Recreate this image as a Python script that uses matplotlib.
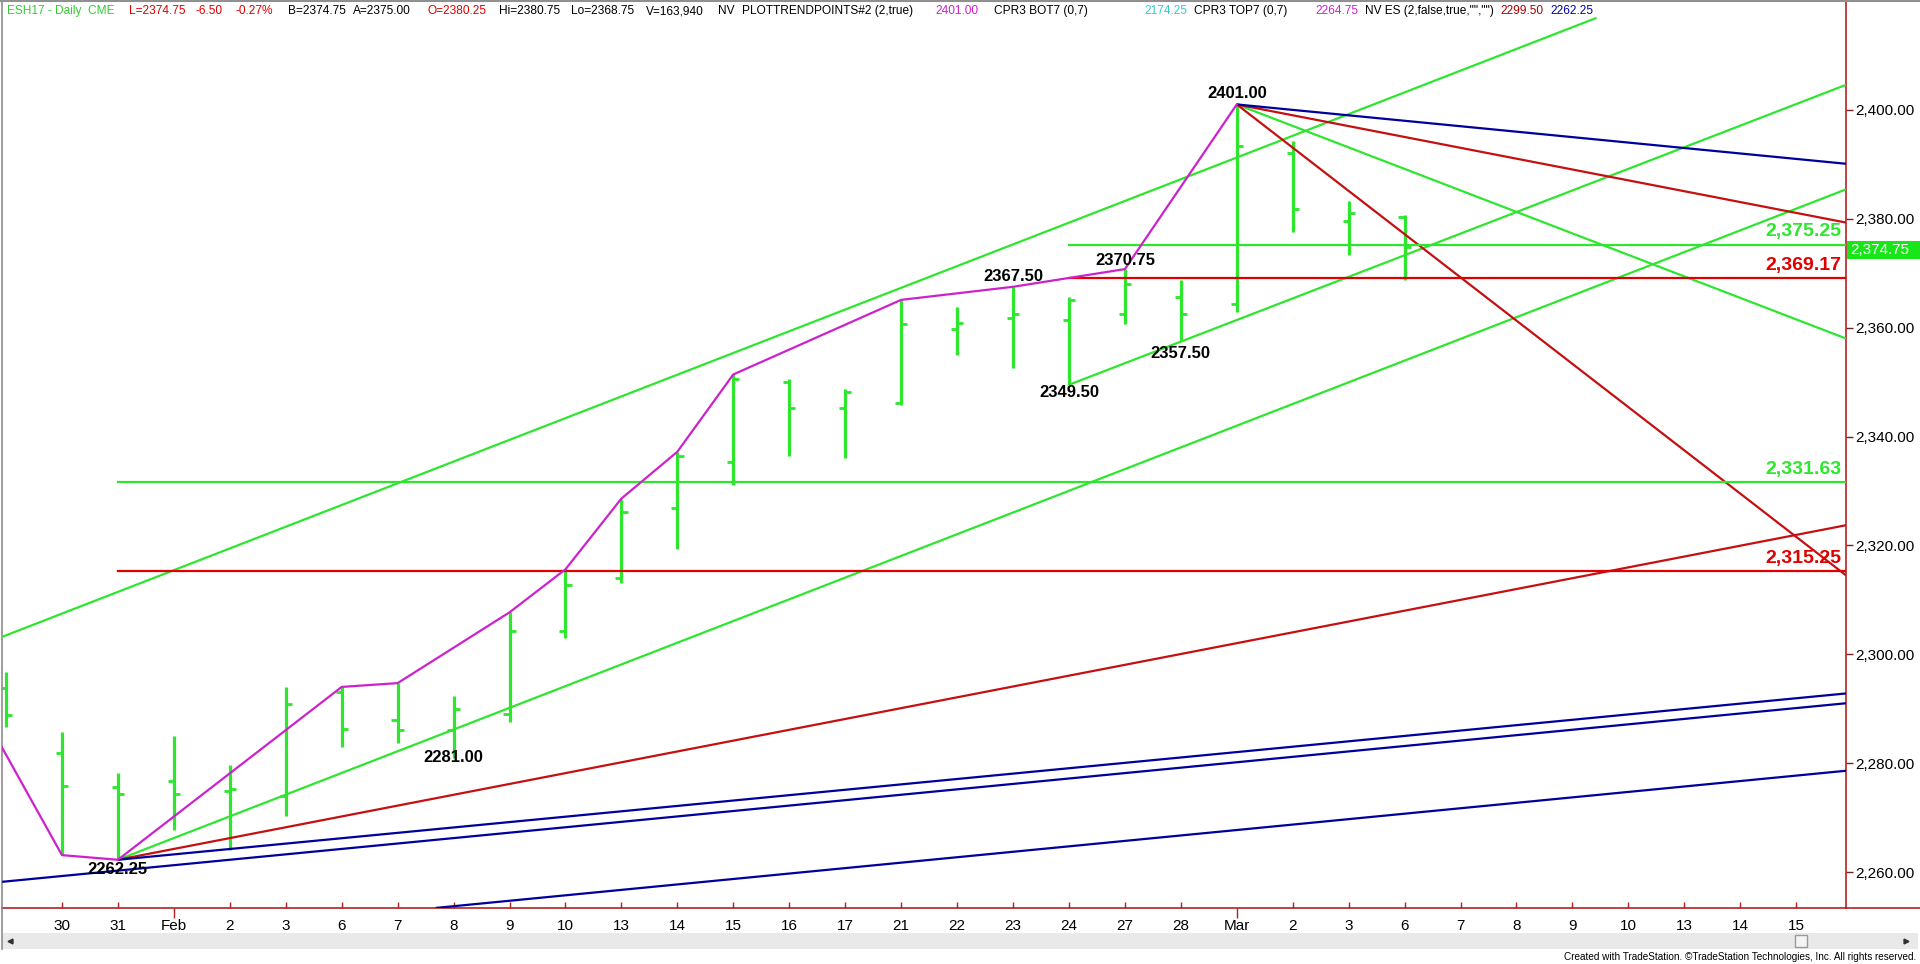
import matplotlib
matplotlib.use('Agg')
import matplotlib.pyplot as plt
from matplotlib import font_manager as fm
from matplotlib.lines import Line2D
from matplotlib.patches import Rectangle

SANS = 'Liberation Sans'

# narrow face for header/footer if one is installed, else plain sans a bit smaller
narrow_file = None
for f in fm.fontManager.ttflist:
    fn = f.fname.lower()
    if 'liberationsansnarrow-regular' in fn or 'arialn' in fn:
        narrow_file = f.fname
        break
if narrow_file:
    HDR = fm.FontProperties(fname=narrow_file, size=10)
    FOOT = fm.FontProperties(fname=narrow_file, size=8.8)
else:
    HDR = fm.FontProperties(family=SANS, size=8.6)
    FOOT = fm.FontProperties(family=SANS, size=7.2)

# ---- data: daily bars (x = trading day index, Jan 30 = 0) ----
bar_x = list(range(-1, 25))
opens = [2293.8, 2281.9, 2275.7, 2276.7, 2274.9, 2274.0, 2293.1, 2288.0, 2286.0, 2289.0,
         2304.3, 2314.0, 2326.9, 2335.4, 2350.0, 2345.3, 2346.2, 2359.7, 2361.7, 2361.4,
         2362.5, 2365.6, 2364.3, 2392.0, 2379.5, 2380.25]
highs = [2296.75, 2285.8, 2278.1, 2284.9, 2279.7, 2293.9, 2294.0, 2294.7, 2292.4, 2307.7,
         2315.6, 2328.6, 2337.2, 2351.4, 2350.5, 2348.7, 2365.1, 2363.7, 2367.5, 2365.7,
         2370.75, 2368.8, 2401.0, 2394.3, 2383.2, 2380.75]
lows = [2286.6, 2263.1, 2262.25, 2267.8, 2264.0, 2270.2, 2283.0, 2283.7, 2281.0, 2287.5,
        2303.0, 2313.1, 2319.4, 2331.1, 2336.5, 2336.1, 2345.8, 2355.0, 2352.5, 2349.5,
        2360.7, 2357.5, 2362.8, 2377.6, 2373.4, 2368.75]
closes = [2288.8, 2275.8, 2274.3, 2274.3, 2275.3, 2290.9, 2286.2, 2286.0, 2290.0, 2304.3,
          2312.7, 2326.2, 2336.5, 2350.5, 2345.3, 2348.2, 2360.6, 2360.8, 2362.5, 2365.0,
          2368.0, 2362.5, 2393.4, 2381.7, 2381.0, 2374.75]

date_pos = list(range(0, 32))
date_labels = ['30', '31', 'Feb', '2', '3', '6', '7', '8', '9', '10', '13', '14', '15', '16',
               '17', '21', '22', '23', '24', '27', '28', 'Mar', '2', '3', '6', '7', '8', '9',
               '10', '13', '14', '15']
month_pos = [2, 21]

# swing line (PLOTTRENDPOINTS)
swing_x = [-2, 0, 1, 5, 6, 8, 9, 10, 11, 12, 15, 17, 19, 21]
swing_y = [2300.0, 2263.1, 2262.25, 2294.0, 2294.7, 2307.7, 2315.6, 2328.6, 2337.2, 2351.4,
           2365.1, 2367.5, 2370.75, 2401.0]

# trend lines: (x0, y0, x1, y1)
green_lines = [(-1.07, 2303.2, 27.43, 2416.9),
               (1, 2262.25, 31.89, 2385.4),
               (18, 2349.5, 31.89, 2404.6),
               (21, 2401.0, 31.89, 2358.0)]
red_lines = [(21, 2401.0, 31.89, 2379.3),
             (21, 2401.0, 31.89, 2314.5),
             (1, 2262.25, 31.89, 2323.7)]
blue_lines = [(21, 2401.0, 31.89, 2390.1),
              (1, 2262.25, 31.89, 2292.8),
              (-1.07, 2258.2, 31.89, 2291.0),
              (6.68, 2253.4, 31.89, 2278.6)]

# horizontal levels: (start x, level, colour key)
levels = [(18, 2375.25, 'g'), (18, 2369.17, 'r'), (1, 2331.63, 'g'), (1, 2315.25, 'r')]

# point labels: (x, y, text)
point_labels = [(21, 2403.1, '2401.00'), (19, 2372.35, '2370.75'), (17, 2369.4, '2367.50'),
                (18, 2348.0, '2349.50'), (20, 2355.2, '2357.50'), (7, 2280.95, '2281.00'),
                (1, 2260.5, '2262.25')]

last_price = 2374.75

GREEN = '#2ee62e'
RED = '#e00000'
DRED = '#c41010'
BLUE = '#00009c'
MAG = '#cc22cc'
AXRED = '#b22222'

W, H = 1920, 964
fig = plt.figure(figsize=(W / 100, H / 100), dpi=100)
ax = fig.add_axes([2 / W, (H - 908) / H, (1846 - 2) / W, (908 - 1) / H])
ax.set_xlim(-1.072, 31.89)
ax.set_ylim(2253.39, 2420.0)

# bars
tick = 0.11
ax.vlines(bar_x, lows, highs, color=GREEN, lw=2.3, zorder=2.5)
ax.hlines(opens, [x - tick for x in bar_x], bar_x, color=GREEN, lw=2.0, zorder=2.5)
ax.hlines(closes, bar_x, [x + tick for x in bar_x], color=GREEN, lw=2.0, zorder=2.5)

for lines, col in ((green_lines, GREEN), (red_lines, DRED), (blue_lines, BLUE)):
    for x0, y0, x1, y1 in lines:
        ax.plot([x0, x1], [y0, y1], color=col, lw=1.6, zorder=3, solid_capstyle='butt')

xmax = ax.get_xlim()[1]
for x0, lvl, c in levels:
    col = GREEN if c == 'g' else RED
    ax.plot([x0, xmax], [lvl, lvl], color=col, lw=1.6, zorder=3)
    ax.annotate('{:,.2f}'.format(lvl), xy=(xmax, lvl), xytext=(-3, 3), textcoords='offset points',
                ha='right', va='bottom', color=col, fontsize=14, fontweight='bold',
                family=SANS, zorder=5)

ax.plot(swing_x, swing_y, color=MAG, lw=1.6, zorder=4)

for x, y, t in point_labels:
    ax.text(x, y, t, ha='center', va='center', fontsize=12, fontweight='bold',
            family=SANS, color='black', zorder=5)

# axes styling
ax.spines['top'].set_visible(False)
ax.spines['left'].set_color('#8c8c8c')
ax.spines['right'].set_color(AXRED)
ax.spines['bottom'].set_color(AXRED)
for s in ('left', 'right', 'bottom'):
    ax.spines[s].set_linewidth(1.2)

ax.yaxis.tick_right()
ax.set_yticks(range(2260, 2401, 20))
ax.set_yticklabels(['{:,.2f}'.format(v) for v in range(2260, 2401, 20)],
                   fontsize=11, family=SANS)
ax.tick_params(axis='y', direction='out', length=5, width=1, color='#7a2020', pad=2)

minor_pos = [p for p in date_pos if p not in month_pos]
minor_lab = [l for p, l in zip(date_pos, date_labels) if p not in month_pos]
ax.set_xticks(month_pos)
ax.set_xticklabels([date_labels[p] for p in month_pos], fontsize=11, family=SANS)
ax.set_xticks(minor_pos, minor=True)
ax.set_xticklabels(minor_lab, minor=True, fontsize=11, family=SANS)
ax.tick_params(axis='x', which='major', direction='out', length=7, width=1, color=AXRED, pad=1)
ax.tick_params(axis='x', which='minor', direction='in', length=4, width=1, color=AXRED, pad=8)

# last price tag
fig.patches.append(Rectangle((1847 / W, (H - 259) / H), 73 / W, 18 / H, transform=fig.transFigure,
                             facecolor='#19e619', edgecolor='none'))
fig.text(1850 / W, (H - 250) / H, '{:,.2f}'.format(last_price), color='white', fontsize=11,
         family=SANS, va='center', ha='left')

# frame bits outside the axes
fig.add_artist(Line2D([0, 1], [1 - 0.6 / H, 1 - 0.6 / H], color='#909090', lw=1.5))
fig.add_artist(Line2D([1846 / W, 1], [(H - 908) / H] * 2, color=AXRED, lw=1.2))
fig.add_artist(Line2D([2 / W, 2 / W], [(H - 949) / H, (H - 908) / H], color='#8c8c8c', lw=1.2))

# scroll bar
fig.patches.append(Rectangle((3 / W, (H - 949) / H), 1915 / W, 16 / H, transform=fig.transFigure,
                             facecolor='#e9e9e9', edgecolor='none'))
fig.patches.append(Rectangle((1795 / W, (H - 947) / H), 12 / W, 12 / H, transform=fig.transFigure,
                             facecolor='#f4f4f4', edgecolor='#9a9a9a', lw=1))
fig.add_artist(Line2D([10 / W], [(H - 941) / H], marker='<', markersize=3.5, color='#303030', lw=0))
fig.add_artist(Line2D([1906 / W], [(H - 941) / H], marker='>', markersize=3.5, color='#303030', lw=0))

fig.text(1916 / W, (H - 957) / H,
         'Created with TradeStation. \u00a9TradeStation Technologies, Inc. All rights reserved.',
         ha='right', va='center', fontproperties=FOOT, color='black')

# header: each piece starts at its place in the reference, pushed right if the previous runs long
header = [('ESH17 - Daily  CME', '#33cc33', 3), ('L=2374.75', RED, 129), ('-6.50', RED, 195),
          ('-0.27%', RED, 236), ('B=2374.75', 'black', 288), ('A=2375.00', 'black', 353),
          ('O=2380.25', RED, 427), ('Hi=2380.75', 'black', 499), ('Lo=2368.75', 'black', 571),
          ('V=163,940', 'black', 646), ('NV', 'black', 718),
          ('PLOTTRENDPOINTS#2 (2,true)', 'black', 741), ('2401.00', MAG, 935),
          ('CPR3 BOT7 (0,7)', 'black', 994), ('2174.25', '#33cccc', 1144),
          ('CPR3 TOP7 (0,7)', 'black', 1193), ('2264.75', MAG, 1315),
          ('NV ES (2,false,true,"","")', 'black', 1362), ('2299.50', '#aa0000', 1471),
          ('2262.25', '#0000aa', 1523)]
renderer = fig.canvas.get_renderer()
x_end = 0
for t, c, x in header:
    x0 = max(x, x_end + 7)
    txt = fig.text(x0 / W, (H - 11) / H, t, color=c, fontproperties=HDR, ha='left', va='center')
    x_end = txt.get_window_extent(renderer).x1

fig.savefig('out.png', dpi=100, facecolor='white')
